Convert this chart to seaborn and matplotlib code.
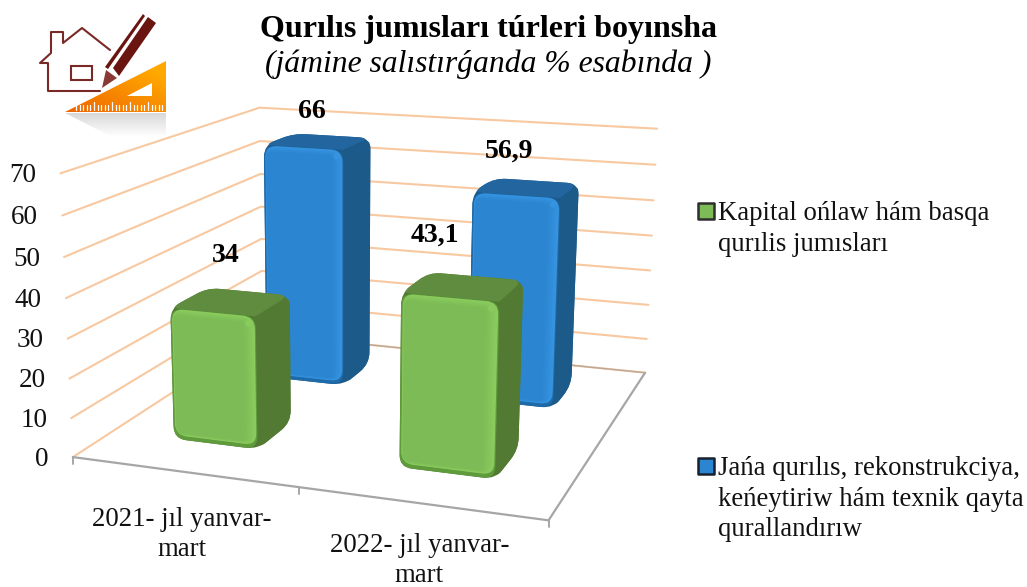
import numpy as np
from matplotlib import pyplot as plt
from matplotlib.patches import PathPatch, Polygon
from matplotlib.path import Path
from matplotlib.colors import to_rgb
import seaborn as sns

categories = ["2021- jıl yanvar-\nmart", "2022- jıl yanvar-\nmart"]
green_name = "Kapital ońlaw hám basqa\nqurılis jumısları"
blue_name = "Jańa qurılıs, rekonstrukciya,\nkeńeytiriw hám texnik qayta\nqurallandırıw"
green_values = [34, 43.1]
blue_values = [66, 56.9]
green_labels = ["34", "43,1"]
blue_labels = ["66", "56,9"]
y_ticks = [0, 10, 20, 30, 40, 50, 60, 70]
title = "Qurılıs jumısları túrleri boyınsha"
subtitle = "(jámine salıstırǵanda % esabında )"

sns.set_theme(style="white")
plt.rcParams["font.family"] = ["Liberation Serif", "DejaVu Serif"]

W, H = 1027, 587
fig = plt.figure(figsize=(W / 100, H / 100), dpi=100)
ax = fig.add_axes([0, 0, 1, 1])
ax.set_axis_off()

# camera of the 3d box: unit floor (u, v), height in value units
ZMAX = 70
calib = [
    ((0, 0, 0), (73, 457)), ((1, 0, 0), (549, 520)), ((1, 1, 0), (645, 373)), ((0, 1, 0), (262, 334)),
    ((0, 0, 1), (60, 173)), ((1, 0, 1), (559, 209)), ((1, 1, 1), (657, 128)), ((0, 1, 1), (260, 108)),
]
rows = []
for (X, Y, Z), (px, py) in calib:
    rows.append([X, Y, Z, 1, 0, 0, 0, 0, -px * X, -px * Y, -px * Z, -px])
    rows.append([0, 0, 0, 0, X, Y, Z, 1, -py * X, -py * Y, -py * Z, -py])
camera = np.linalg.svd(np.array(rows, dtype=float))[2][-1].reshape(3, 4)


def project(u, v, z):
    p = camera @ np.array([u, v, z / ZMAX, 1.0])
    return p[0] / p[2], p[1] / p[2]


def rounded(pts, radii, color, zorder):
    pts = np.array(pts, dtype=float)
    n = len(pts)
    if np.isscalar(radii):
        radii = [radii] * n
    verts, codes = [], []
    for i in range(n):
        prev, cur, nxt = pts[i - 1], pts[i], pts[(i + 1) % n]
        r = radii[i]
        a = cur + (prev - cur) * min(r / np.linalg.norm(prev - cur), 0.5)
        b = cur + (nxt - cur) * min(r / np.linalg.norm(nxt - cur), 0.5)
        verts += [a, cur, b]
        codes += [Path.MOVETO if i == 0 else Path.LINETO, Path.CURVE3, Path.CURVE3]
    verts.append(verts[0])
    codes.append(Path.CLOSEPOLY)
    ax.add_patch(PathPatch(Path(verts, codes), fc=color, ec="none", lw=0, zorder=zorder))


def mix(c1, c2, t):
    return tuple((1 - t) * np.array(to_rgb(c1)) + t * np.array(to_rgb(c2)))


def draw_bar(u0, u1, v0, v1, h, pal, zorder):
    # whole outline in the side colour, then the top, then the front face over them
    outline = [project(u0, v0, 0), project(u1, v0, 0), project(u1, v1, 0), project(u1, v1, h),
               project(u0, v1, h), project(u0, v0, h)]
    rounded(outline, 12, pal["side"], zorder)
    rounded([project(u0, v0, h), project(u1, v0, h), project(u1, v1, h), project(u0, v1, h)],
            [10, 0, 12, 12], pal["top"], zorder + 0.05)
    rounded([project(u1, v0, 0), project(u1, v1, 0), project(u1, v1, h), project(u1, v0, h)],
            [10, 12, 10, 0], pal["side"], zorder + 0.06)

    def front(left, right, bottom, top):
        du, dz = 0.0024, 0.25
        return [project(u0 + left * du, v0, bottom * dz), project(u1 - right * du, v0, bottom * dz),
                project(u1 - right * du, v0, h - top * dz), project(u0 + left * du, v0, h - top * dz)]

    rounded(front(0, 0, 0, 0), 13, pal["edge"], zorder + 0.1)
    rounded(front(1.5, 1, 4, 0.5), 12, pal["light"], zorder + 0.2)
    steps = np.linspace(0, 1, 7)[1:]
    for t in steps:
        inset = front(1.5 + 1.5 * t, 1 + 10 * t, 4 + 3 * t, 0.5 + 6.5 * t)
        rounded(inset, 12 - 7 * t, mix(pal["light"], pal["face"], t), zorder + 0.3)
    sx, sy = project(u1 - 7 * 0.0024, v0, h - 7 * 0.25)
    ax.scatter([sx], [sy], s=22, color=pal["light"], linewidths=0, zorder=zorder + 0.4)


def wall_line(xs, ys, color, lw=1.5, zorder=1):
    sns.lineplot(x=xs, y=ys, sort=False, estimator=None, color=color, lw=lw, ax=ax, legend=False, zorder=zorder)


# gridlines on the walls
for z in y_ticks:
    pts = [project(0, 0, z), project(0, 1, z), project(1, 1, z)]
    wall_line([p[0] for p in pts], [p[1] for p in pts], "#F8C8A0")

# floor and ticks
axis_gray = "#A6A6A6"
pts = [project(0, 0, 0), project(1, 0, 0), project(1, 1, 0)]
wall_line([p[0] for p in pts], [p[1] for p in pts], axis_gray, lw=1.6, zorder=2)
pts = [project(0, 1, 0), project(1, 1, 0)]
wall_line([p[0] for p in pts], [p[1] for p in pts], "#B9A999", lw=1.0, zorder=2)
for u in [0, 0.5, 1]:
    x0, y0 = project(u, 0, 0)
    wall_line([x0, x0], [y0, y0 + 7], axis_gray, lw=1.4, zorder=2)

green = {"face": "#7CBB55", "side": "#527A33", "top": "#5F8C3E", "light": "#8ACB5E", "edge": "#5F9A3C"}
blue = {"face": "#2B85D0", "side": "#1C5A8A", "top": "#22659F", "light": "#3593E0", "edge": "#1F6AA8"}

for (u0, u1), val in zip([(0.157, 0.352), (0.657, 0.855)], blue_values):
    draw_bar(u0, u1, 0.655, 0.84, val, blue, 3)
for (u0, u1), val in zip([(0.145, 0.338), (0.65, 0.85)], green_values):
    draw_bar(u0, u1, 0.175, 0.36, val, green, 4)

# value labels
for (x, y), txt in zip([(226, 255), (435, 235)], green_labels):
    ax.text(x, y, txt, fontsize=20, fontweight="bold", ha="center", va="center", color="black", zorder=6)
for (x, y), txt in zip([(312, 112), (509, 151)], blue_labels):
    ax.text(x, y, txt, fontsize=20, fontweight="bold", ha="center", va="center", color="black", zorder=6)

# axis labels
for z in y_ticks:
    x0, y0 = project(0, 0, z)
    ax.text(x0 - 24, y0 + 2, str(z), fontsize=19.5, ha="right", va="center", color="#111111")
for u, name, dx, dy in zip([0.25, 0.75], categories, [-1, -1], [63, 57]):
    x0, y0 = project(u, 0, 0)
    ax.text(x0 + dx, y0 + dy, name, fontsize=19.3, ha="center", va="center", linespacing=1.27, color="#111111")

# titles
ax.text(488, 29, title, fontsize=23, fontweight="bold", ha="center", va="center", color="black")
ax.text(488, 64, subtitle, fontsize=22.8, fontstyle="italic", ha="center", va="center", color="black")

# legend
ax.scatter([706], [211], marker="s", s=120, color=green["face"], edgecolors="#2E2E2E", linewidths=1.8, zorder=5)
ax.scatter([706], [465.5], marker="s", s=120, color=blue["face"], edgecolors="#18222E", linewidths=1.8, zorder=5)
ax.text(718, 229, green_name, fontsize=19.3, ha="left", va="center", linespacing=1.27, color="#111111")
ax.text(718, 499, blue_name, fontsize=19.3, ha="left", va="center", linespacing=1.27, color="#111111")

# logo in the corner
dark_red = "#7A2A26"
house = np.array([(110, 50), (82, 28), (63, 43), (63, 32), (51, 32), (51, 53), (40, 63), (48, 63), (48, 91), (100, 91)])
ax.plot(house[:, 0], house[:, 1], color=dark_red, lw=1.5, zorder=8)
ax.add_patch(Polygon([(71, 66), (92, 66), (92, 80), (71, 80)], fc="none", ec=dark_red, lw=1.5, zorder=8))
ax.add_patch(Polygon([(113, 68), (148, 17), (156, 23), (119, 76)], fc="#6B1510", ec="none", zorder=8))
ax.add_patch(Polygon([(105, 67), (143, 14), (145, 16), (108, 69)], fc="#6B1510", ec="none", zorder=8))
ax.add_patch(Polygon([(102, 88), (106, 70), (117, 78)], fc="#8A3A34", ec="none", zorder=8))

tri = Polygon([(65, 112), (166, 61), (166, 112)], fc="none", ec="none", transform=ax.transData)
ax.add_patch(tri)
gx, gy = np.meshgrid(np.linspace(0, 1, 60), np.linspace(0, 1, 60))
t = np.clip(gx * 0.6 + (1 - gy) * 0.6, 0, 1)[..., None]
grad = (1 - t) * np.array(to_rgb("#EE6400")) + t * np.array(to_rgb("#FFA800"))
im = ax.imshow(grad, extent=(65, 166, 112, 61), aspect="auto", zorder=8)
im.set_clip_path(tri)
ax.add_patch(Polygon([(127, 96), (152, 83), (152, 96)], fc="white", ec="none", zorder=9))
for i, x in enumerate(np.arange(76, 163, 3.6)):
    tall = 8 if i % 5 == 0 else 5
    ax.plot([x, x], [110, 110 - tall], color="white", lw=0.9, zorder=9)

shade = Polygon([(65, 113), (166, 113), (166, 137), (112, 137)], fc="none", ec="none", transform=ax.transData)
ax.add_patch(shade)
s = np.linspace(0.85, 1, 40)[:, None, None] * np.ones((40, 2, 3))
im2 = ax.imshow(s, extent=(65, 166, 137, 113), aspect="auto", zorder=8)
im2.set_clip_path(shade)

ax.set_xlim(0, W)
ax.set_ylim(H, 0)
sns.despine(ax=ax, left=True, bottom=True)
fig.savefig("out.png", dpi=100, facecolor="white")
